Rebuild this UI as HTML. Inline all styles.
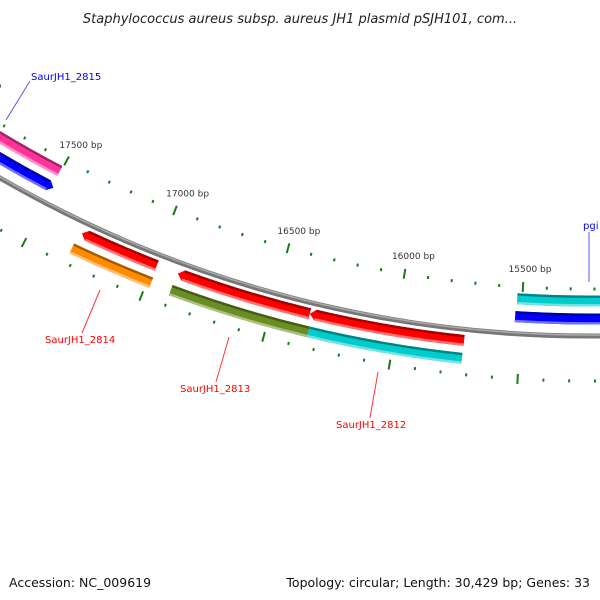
<!DOCTYPE html>
<html><head><meta charset="utf-8"><style>
body{margin:0;background:#fff}
svg{display:block}
text{font-family:"DejaVu Sans","Liberation Sans",sans-serif}
</style></head><body>
<svg id="map" width="600" height="600" viewBox="0 0 600 600" xmlns="http://www.w3.org/2000/svg">
<text x="300" y="23" text-anchor="middle" font-size="13" font-style="italic" fill="#222">Staphylococcus aureus subsp. aureus JH1 plasmid pSJH101, com...</text>
<text x="9" y="587" font-size="12.5" fill="#111">Accession: NC_009619</text>
<text x="590" y="587" text-anchor="end" font-size="12.5" fill="#111">Topology: circular; Length: 30,429 bp; Genes: 33</text>
<g id="layer"></g>
</svg>
<script>
// data
const majorTicks = [15000, 15500, 16000, 16500, 17000, 17500, 18000];
const tickLabels = ["15000 bp", "15500 bp", "16000 bp", "16500 bp", "17000 bp", "17500 bp", "18000 bp"];
const featNames = ["SaurJH1_2815a", "SaurJH1_2815", "SaurJH1_2814a", "SaurJH1_2814", "SaurJH1_2813", "SaurJH1_2812", "SaurJH1_2813b", "SaurJH1_2812b", "pgi", "pgi-b"];
const featStart = [17505, 17497, 16987, 16983, 16347, 15722, 16336, 15723, 14000, 14000];
const featEnd = [18600, 18600, 17312, 17323, 16897, 16347, 16901, 16336, 15521, 15525];
const featColor = ["#ff3399", "#0000ff", "#ff0000", "#ff8c00", "#ff0000", "#ff0000", "#6b8e23", "#00cccc", "#00cccc", "#0000ff"];
const featRing = [0, 1, 2, 3, 2, 2, 3, 3, 0, 1];
const featArrow = ["none", "end", "start", "none", "start", "start", "none", "none", "none", "none"];
const labelText = ["SaurJH1_2815", "SaurJH1_2814", "SaurJH1_2813", "SaurJH1_2812", "pgi"];
const labelColor = ["#0000ff", "#ff0000", "#ff0000", "#ff0000", "#0000ff"];

const cx = 589, cy = -841;
const ringR = [1142, 1160, 1188, 1206];
const W = 11;
const NS = "http://www.w3.org/2000/svg";
const layer = document.getElementById('layer');
function deg(bp){ return -3.35 - (bp - 15500) * 0.012095; }
function pt(r, d){ const a = d * Math.PI / 180; return [cx + r * Math.sin(a), cy + r * Math.cos(a)]; }
function mk(tag, attrs){ const e = document.createElementNS(NS, tag); for (const k in attrs) e.setAttribute(k, attrs[k]); layer.appendChild(e); return e; }
function arcPath(r, d1, d2){ const p1 = pt(r, d1), p2 = pt(r, d2); const sw = d2 > d1 ? 0 : 1; return `M${p1[0]},${p1[1]} A${r},${r} 0 0 ${sw} ${p2[0]},${p2[1]}`; }

// backbone
let bb = mk('path', {d: arcPath(1177, -40, 15), fill: 'none', stroke: '#777', 'stroke-width': 5});


let bb2 = mk('path', {d: arcPath(1176, -40, 15), fill: 'none', stroke: '#aaa', 'stroke-width': 1.5});



// ticks
for (let bp = 14000; bp <= 19000; bp += 100) {
  const d = deg(bp);
  const major = bp % 500 === 0;
  [1130, 1222].forEach(r => {
    const L = major ? 5 : 1.5;
    const a = pt(r - L, d), b = pt(r + L, d);
    const t = mk('line', {x1: a[0], y1: a[1], x2: b[0], y2: b[1], stroke: '#1a7a1a', 'stroke-width': 2});
    
    
  });
}
majorTicks.forEach((bp, i) => {
  const p = pt(1112, deg(bp));
  const t = mk('text', {x: p[0] + 6, y: p[1] + 3, 'text-anchor': 'middle', 'font-size': 9, fill: '#333'});
  t.textContent = tickLabels[i];
  
  
});

// features
function shade(c, f){ const n = parseInt(c.slice(1), 16); let r = n >> 16, g = (n >> 8) & 255, b = n & 255;
  if (f < 0) { r *= 1 + f; g *= 1 + f; b *= 1 + f; } else { r += (255 - r) * f; g += (255 - g) * f; b += (255 - b) * f; }
  return `rgb(${r|0},${g|0},${b|0})`; }
featNames.forEach((nm, i) => {
  const rc = ringR[featRing[i]], r1 = rc - W / 2, r2 = rc + W / 2;
  let dA = deg(featEnd[i]), dB = deg(featStart[i]); // dA < dB
  const ah = 0.28;
  const arr = featArrow[i];
  let a1 = dA, a2 = dB;
  if (arr === 'start') a1 = dA + ah;
  if (arr === 'end') a2 = dB - ah;
  const P = (r, d) => pt(r, d).join(',');
  let path = `M${P(r1, a1)} A${r1},${r1} 0 0 0 ${P(r1, a2)}`;
  if (arr === 'end') path += ` L${P(rc, dB)}`;
  path += ` L${P(r2, a2)} A${r2},${r2} 0 0 1 ${P(r2, a1)}`;
  if (arr === 'start') path += ` L${P(rc, dA)}`;
  path += 'Z';
  const g = mk('path', {d: path, fill: featColor[i]});
  
  
  const top = mk('path', {d: arcPath(r1 + 1.2, a1, a2), fill: 'none', stroke: shade(featColor[i], -0.35), 'stroke-width': 2.4});
  
  
  const bot = mk('path', {d: arcPath(r2 - 1.2, a1, a2), fill: 'none', stroke: shade(featColor[i], 0.45), 'stroke-width': 2.4});
  
  
});

// labels
const lx = [31, 45, 180, 336, 583], ly = [80, 343, 392, 428, 229];
const l1 = [[30,81],[82,333],[216,382],[370,418],[589,232]];
const l2 = [[6,120],[100,290],[229,337],[378,372],[589,282]];
labelText.forEach((s, i) => {
  const ln = mk('line', {x1: l1[i][0], y1: l1[i][1], x2: l2[i][0], y2: l2[i][1], stroke: labelColor[i] === '#0000ff' ? '#5555ff' : '#ff3333', 'stroke-width': 1});
  
  
  const t = mk('text', {x: lx[i], y: ly[i], 'font-size': 10, fill: labelColor[i]});
  t.textContent = s;
  
  
});
</script>
</body></html>
